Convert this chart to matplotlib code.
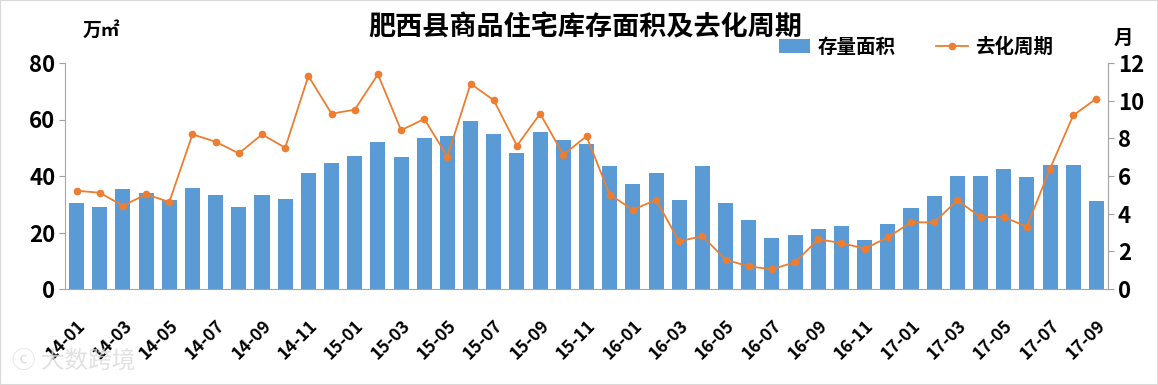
import matplotlib
matplotlib.use("Agg")
import matplotlib.pyplot as plt
from matplotlib.patches import Rectangle
import numpy as np

plt.rcParams['font.family'] = ['Noto Sans CJK SC', 'DejaVu Sans']

months = ["14-01","14-02","14-03","14-04","14-05","14-06","14-07","14-08","14-09","14-10","14-11","14-12",
          "15-01","15-02","15-03","15-04","15-05","15-06","15-07","15-08","15-09","15-10","15-11","15-12",
          "16-01","16-02","16-03","16-04","16-05","16-06","16-07","16-08","16-09","16-10","16-11","16-12",
          "17-01","17-02","17-03","17-04","17-05","17-06","17-07","17-08","17-09"]
stock_area = [30.4, 29.0, 35.4, 34.0, 31.5, 35.8, 33.3, 29.0, 33.3, 31.9, 41.0, 44.6,
              47.1, 52.0, 46.7, 53.5, 54.0, 59.5, 55.0, 48.1, 55.6, 52.8, 51.3, 43.5,
              37.2, 41.0, 31.5, 43.5, 30.4, 24.4, 18.0, 19.0, 21.2, 22.3, 17.3, 23.0,
              28.7, 33.0, 40.0, 40.0, 42.5, 39.6, 44.0, 44.0, 31.0]
cycle = [5.22, 5.11, 4.42, 5.03, 4.62, 8.21, 7.82, 7.20, 8.21, 7.50, 11.31, 9.31,
         9.52, 11.40, 8.43, 9.03, 7.03, 10.90, 10.02, 7.61, 9.31, 7.13, 8.11, 5.01,
         4.21, 4.73, 2.53, 2.81, 1.56, 1.20, 1.05, 1.42, 2.64, 2.44, 2.14, 2.74,
         3.54, 3.54, 4.71, 3.82, 3.82, 3.31, 6.39, 9.22, 10.11]

bar_color = '#5B9BD5'
line_color = '#ED7D31'
W, H = 1158, 385

fig = plt.figure(figsize=(W/100, H/100), dpi=100)
ax = fig.add_axes([65/W, 1-289/H, (1108-65)/W, (289-63)/H])
x = np.arange(len(months))
bars = ax.bar(x, stock_area, width=0.65, color=bar_color, label='存量面积', zorder=2)
ax.set_xlim(-0.5, len(months)-0.5)
ax.set_ylim(0, 80)
ax.set_yticks([0, 20, 40, 60, 80])
ax.tick_params(axis='y', labelsize=16, length=4, color='#A0A0A0', pad=3)
for lbl in ax.get_yticklabels():
    lbl.set_fontweight('bold')
ax.set_xticks(x[::2])
ax.set_xticklabels(months[::2], rotation=45, ha='right', rotation_mode='anchor',
                   fontsize=12.5, fontweight='bold')
ax.tick_params(axis='x', length=0, pad=20)
ax.spines['top'].set_visible(False)
for s in ['left', 'right', 'bottom']:
    ax.spines[s].set_color('#A6A6A6')

ax2 = ax.twinx()
ln, = ax2.plot(x, cycle, color=line_color, lw=1.3, marker='o', markersize=4.5, label='去化周期', zorder=3)
ax2.set_ylim(0, 12)
ax2.set_yticks([0, 2, 4, 6, 8, 10, 12])
ax2.tick_params(axis='y', labelsize=16, length=4, color='#A0A0A0', pad=3)
for lbl in ax2.get_yticklabels():
    lbl.set_fontweight('bold')
for s in ['top', 'left', 'bottom']:
    ax2.spines[s].set_visible(False)
ax2.spines['right'].set_color('#A6A6A6')

fig.text(585/W, 1-27/H, '肥西县商品住宅库存面积及去化周期', ha='center', va='center',
         fontsize=19.5, fontweight='bold')
fig.text(83/W, 1-30/H, '万㎡', ha='left', va='center', fontsize=13.5, fontweight='bold')
fig.text(1114/W, 1-38/H, '月', ha='left', va='center', fontsize=14, fontweight='bold')

leg = fig.legend(handles=[bars, ln], loc='center', bbox_to_anchor=(916/W, 1-47/H), ncol=2,
                 frameon=False, prop={'size': 14, 'weight': 'bold'}, columnspacing=2.1,
                 handlelength=1.6, handletextpad=0.4)

fig.text(12/W, 1-361/H, 'ⓒ 大数跨境', ha='left', va='center', fontsize=17, color='#DADADA', alpha=0.8)

fig.patches.append(Rectangle((0, 0), 1, 1, transform=fig.transFigure, fill=False,
                             edgecolor='#D9D9D9', lw=1.5))

fig.savefig('out.png', dpi=100)
